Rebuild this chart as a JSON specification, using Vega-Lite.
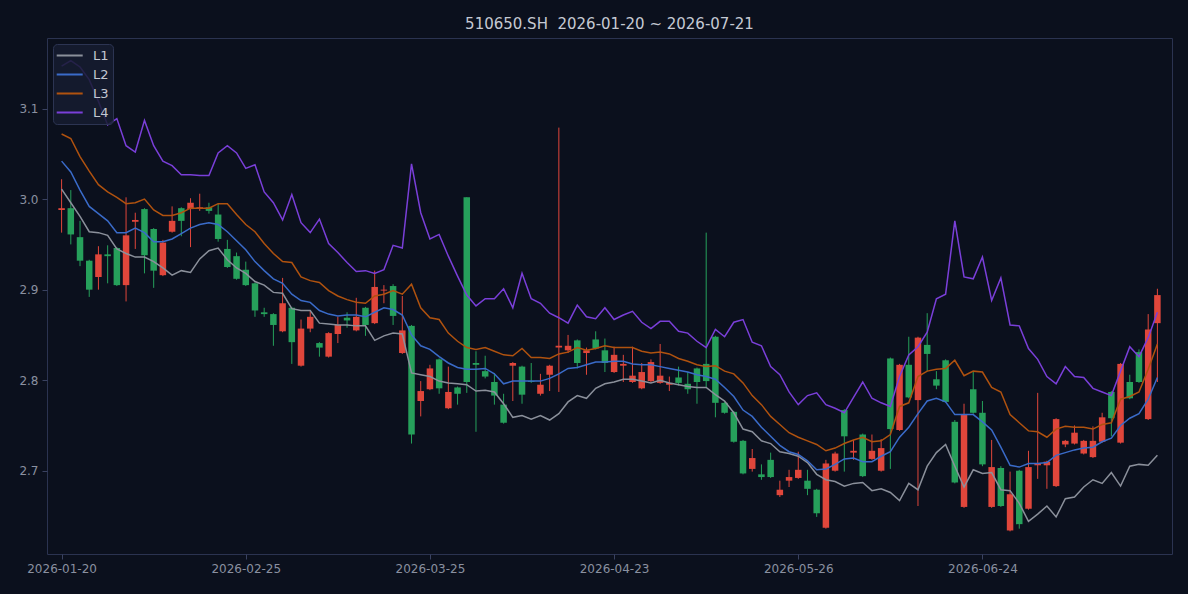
{
  "$schema": "https://vega.github.io/schema/vega-lite/v6.json",
  "width": 1125,
  "height": 516,
  "autosize": {"type": "none"},
  "padding": {"left": 47, "top": 38, "right": 16, "bottom": 40},
  "background": "#0b101d",
  "title": {"text": "510650.SH\u00a0 2026-01-20 ~ 2026-07-21", "color": "#c5c9d3", "fontSize": 15, "fontWeight": "normal", "font": "DejaVu Sans", "offset": 6, "anchor": "middle"},
  "config": {
    "font": "DejaVu Sans",
    "view": {"stroke": "#2b3350", "strokeWidth": 1},
    "axis": {"labelColor": "#8a90a0", "labelFontSize": 12, "tickColor": "#3a4260", "tickSize": 5, "domain": false, "grid": false, "title": null, "labelPadding": 4},
    "legend": {"orient": "top-left", "offset": 6, "fillColor": "rgba(22,28,48,0.85)", "strokeColor": "#2c3452", "cornerRadius": 4, "padding": 4, "symbolType": "M-1.2,0H2.8", "symbolSize": 169, "symbolStrokeWidth": 2, "labelColor": "#c3c7d1", "labelFontSize": 13, "rowPadding": 4, "labelOffset": 21}
  },
  "data": {"values": [
    {"d":"2026-01-20","o":2.988,"h":3.022,"l":2.963,"c":2.990,"L1":3.011,"L2":3.042,"L3":3.072,"L4":3.147},
    {"d":"2026-01-21","o":2.990,"h":3.010,"l":2.950,"c":2.961,"L1":2.996,"L2":3.030,"L3":3.067,"L4":3.153},
    {"d":"2026-01-22","o":2.958,"h":2.976,"l":2.926,"c":2.932,"L1":2.981,"L2":3.010,"L3":3.047,"L4":3.146},
    {"d":"2026-01-23","o":2.932,"h":2.933,"l":2.892,"c":2.900,"L1":2.964,"L2":2.992,"L3":3.031,"L4":3.132},
    {"d":"2026-01-26","o":2.914,"h":2.948,"l":2.900,"c":2.939,"L1":2.963,"L2":2.984,"L3":3.016,"L4":3.108},
    {"d":"2026-01-27","o":2.939,"h":2.949,"l":2.907,"c":2.937,"L1":2.960,"L2":2.976,"L3":3.008,"L4":3.082},
    {"d":"2026-01-28","o":2.946,"h":2.947,"l":2.904,"c":2.905,"L1":2.945,"L2":2.963,"L3":3.002,"L4":3.089},
    {"d":"2026-01-29","o":2.905,"h":3.002,"l":2.887,"c":2.960,"L1":2.940,"L2":2.963,"L3":2.995,"L4":3.059},
    {"d":"2026-01-30","o":2.975,"h":2.985,"l":2.945,"c":2.977,"L1":2.936,"L2":2.968,"L3":2.996,"L4":3.052},
    {"d":"2026-02-02","o":2.989,"h":2.990,"l":2.918,"c":2.938,"L1":2.936,"L2":2.963,"L3":3.000,"L4":3.087},
    {"d":"2026-02-03","o":2.967,"h":2.968,"l":2.902,"c":2.921,"L1":2.931,"L2":2.953,"L3":2.988,"L4":3.059},
    {"d":"2026-02-04","o":2.916,"h":2.955,"l":2.915,"c":2.952,"L1":2.924,"L2":2.953,"L3":2.982,"L4":3.042},
    {"d":"2026-02-05","o":2.964,"h":2.992,"l":2.963,"c":2.976,"L1":2.916,"L2":2.956,"L3":2.982,"L4":3.037},
    {"d":"2026-02-06","o":2.990,"h":2.991,"l":2.959,"c":2.976,"L1":2.921,"L2":2.962,"L3":2.985,"L4":3.027},
    {"d":"2026-02-09","o":2.989,"h":3.001,"l":2.947,"c":2.996,"L1":2.919,"L2":2.968,"L3":2.990,"L4":3.027},
    {"d":"2026-02-10","o":2.990,"h":3.006,"l":2.987,"c":2.991,"L1":2.934,"L2":2.972,"L3":2.990,"L4":3.026},
    {"d":"2026-02-11","o":2.991,"h":2.996,"l":2.984,"c":2.987,"L1":2.943,"L2":2.974,"L3":2.990,"L4":3.026},
    {"d":"2026-02-12","o":2.983,"h":2.995,"l":2.953,"c":2.956,"L1":2.946,"L2":2.972,"L3":2.995,"L4":3.051},
    {"d":"2026-02-13","o":2.945,"h":2.955,"l":2.924,"c":2.925,"L1":2.933,"L2":2.964,"L3":2.995,"L4":3.059},
    {"d":"2026-02-24","o":2.937,"h":2.941,"l":2.911,"c":2.912,"L1":2.924,"L2":2.954,"L3":2.983,"L4":3.051},
    {"d":"2026-02-25","o":2.922,"h":2.931,"l":2.904,"c":2.905,"L1":2.918,"L2":2.944,"L3":2.972,"L4":3.034},
    {"d":"2026-02-26","o":2.907,"h":2.908,"l":2.870,"c":2.877,"L1":2.909,"L2":2.931,"L3":2.964,"L4":3.038},
    {"d":"2026-02-27","o":2.875,"h":2.880,"l":2.870,"c":2.873,"L1":2.905,"L2":2.921,"L3":2.951,"L4":3.008},
    {"d":"2026-03-02","o":2.873,"h":2.874,"l":2.838,"c":2.861,"L1":2.897,"L2":2.912,"L3":2.940,"L4":2.996},
    {"d":"2026-03-03","o":2.854,"h":2.913,"l":2.853,"c":2.885,"L1":2.896,"L2":2.907,"L3":2.931,"L4":2.977},
    {"d":"2026-03-04","o":2.880,"h":2.881,"l":2.818,"c":2.842,"L1":2.879,"L2":2.895,"L3":2.930,"L4":3.005},
    {"d":"2026-03-05","o":2.816,"h":2.867,"l":2.815,"c":2.857,"L1":2.877,"L2":2.888,"L3":2.914,"L4":2.974},
    {"d":"2026-03-06","o":2.857,"h":2.877,"l":2.853,"c":2.870,"L1":2.877,"L2":2.886,"L3":2.910,"L4":2.963},
    {"d":"2026-03-09","o":2.841,"h":2.842,"l":2.826,"c":2.836,"L1":2.863,"L2":2.877,"L3":2.908,"L4":2.978},
    {"d":"2026-03-10","o":2.826,"h":2.853,"l":2.825,"c":2.852,"L1":2.862,"L2":2.873,"L3":2.899,"L4":2.951},
    {"d":"2026-03-11","o":2.851,"h":2.870,"l":2.841,"c":2.861,"L1":2.861,"L2":2.871,"L3":2.893,"L4":2.941},
    {"d":"2026-03-12","o":2.869,"h":2.875,"l":2.858,"c":2.866,"L1":2.861,"L2":2.872,"L3":2.889,"L4":2.930},
    {"d":"2026-03-13","o":2.855,"h":2.891,"l":2.854,"c":2.870,"L1":2.860,"L2":2.872,"L3":2.886,"L4":2.920},
    {"d":"2026-03-16","o":2.880,"h":2.881,"l":2.849,"c":2.861,"L1":2.860,"L2":2.870,"L3":2.885,"L4":2.921},
    {"d":"2026-03-17","o":2.863,"h":2.921,"l":2.862,"c":2.903,"L1":2.844,"L2":2.875,"L3":2.893,"L4":2.918},
    {"d":"2026-03-18","o":2.899,"h":2.905,"l":2.885,"c":2.900,"L1":2.849,"L2":2.880,"L3":2.895,"L4":2.922},
    {"d":"2026-03-19","o":2.904,"h":2.906,"l":2.861,"c":2.871,"L1":2.852,"L2":2.878,"L3":2.899,"L4":2.949},
    {"d":"2026-03-20","o":2.830,"h":2.893,"l":2.829,"c":2.855,"L1":2.851,"L2":2.872,"L3":2.895,"L4":2.946},
    {"d":"2026-03-23","o":2.860,"h":2.861,"l":2.730,"c":2.740,"L1":2.808,"L2":2.850,"L3":2.906,"L4":3.039},
    {"d":"2026-03-24","o":2.777,"h":2.799,"l":2.760,"c":2.788,"L1":2.806,"L2":2.838,"L3":2.880,"L4":2.985},
    {"d":"2026-03-25","o":2.790,"h":2.817,"l":2.789,"c":2.813,"L1":2.804,"L2":2.834,"L3":2.869,"L4":2.956},
    {"d":"2026-03-26","o":2.823,"h":2.824,"l":2.785,"c":2.791,"L1":2.799,"L2":2.826,"L3":2.867,"L4":2.961},
    {"d":"2026-03-27","o":2.769,"h":2.815,"l":2.768,"c":2.787,"L1":2.797,"L2":2.819,"L3":2.852,"L4":2.937},
    {"d":"2026-03-30","o":2.792,"h":2.793,"l":2.773,"c":2.785,"L1":2.796,"L2":2.814,"L3":2.843,"L4":2.915},
    {"d":"2026-03-31","o":3.002,"h":3.002,"l":2.786,"c":2.798,"L1":2.795,"L2":2.812,"L3":2.836,"L4":2.894},
    {"d":"2026-04-01","o":2.819,"h":2.832,"l":2.743,"c":2.817,"L1":2.788,"L2":2.812,"L3":2.834,"L4":2.882},
    {"d":"2026-04-02","o":2.810,"h":2.827,"l":2.802,"c":2.804,"L1":2.789,"L2":2.813,"L3":2.836,"L4":2.890},
    {"d":"2026-04-03","o":2.798,"h":2.808,"l":2.773,"c":2.783,"L1":2.787,"L2":2.807,"L3":2.832,"L4":2.890},
    {"d":"2026-04-07","o":2.773,"h":2.785,"l":2.752,"c":2.753,"L1":2.774,"L2":2.796,"L3":2.828,"L4":2.901},
    {"d":"2026-04-08","o":2.816,"h":2.820,"l":2.777,"c":2.819,"L1":2.759,"L2":2.799,"L3":2.827,"L4":2.880},
    {"d":"2026-04-09","o":2.815,"h":2.816,"l":2.774,"c":2.784,"L1":2.761,"L2":2.799,"L3":2.835,"L4":2.918},
    {"d":"2026-04-10","o":2.799,"h":2.819,"l":2.797,"c":2.798,"L1":2.757,"L2":2.799,"L3":2.825,"L4":2.890},
    {"d":"2026-04-13","o":2.785,"h":2.807,"l":2.783,"c":2.795,"L1":2.761,"L2":2.799,"L3":2.825,"L4":2.885},
    {"d":"2026-04-14","o":2.806,"h":2.817,"l":2.788,"c":2.816,"L1":2.756,"L2":2.802,"L3":2.824,"L4":2.874},
    {"d":"2026-04-15","o":2.836,"h":3.079,"l":2.787,"c":2.838,"L1":2.763,"L2":2.807,"L3":2.829,"L4":2.869},
    {"d":"2026-04-16","o":2.833,"h":2.850,"l":2.830,"c":2.838,"L1":2.776,"L2":2.813,"L3":2.831,"L4":2.863},
    {"d":"2026-04-17","o":2.844,"h":2.845,"l":2.813,"c":2.819,"L1":2.783,"L2":2.814,"L3":2.836,"L4":2.883},
    {"d":"2026-04-20","o":2.830,"h":2.836,"l":2.806,"c":2.833,"L1":2.780,"L2":2.817,"L3":2.833,"L4":2.870},
    {"d":"2026-04-21","o":2.845,"h":2.854,"l":2.834,"c":2.835,"L1":2.791,"L2":2.820,"L3":2.835,"L4":2.868},
    {"d":"2026-04-22","o":2.833,"h":2.846,"l":2.809,"c":2.819,"L1":2.796,"L2":2.820,"L3":2.838,"L4":2.880},
    {"d":"2026-04-23","o":2.809,"h":2.837,"l":2.808,"c":2.828,"L1":2.798,"L2":2.821,"L3":2.836,"L4":2.867},
    {"d":"2026-04-24","o":2.816,"h":2.828,"l":2.798,"c":2.818,"L1":2.801,"L2":2.821,"L3":2.836,"L4":2.872},
    {"d":"2026-04-27","o":2.798,"h":2.837,"l":2.797,"c":2.805,"L1":2.801,"L2":2.818,"L3":2.836,"L4":2.876},
    {"d":"2026-04-28","o":2.791,"h":2.819,"l":2.790,"c":2.809,"L1":2.799,"L2":2.817,"L3":2.832,"L4":2.864},
    {"d":"2026-04-29","o":2.799,"h":2.823,"l":2.798,"c":2.820,"L1":2.797,"L2":2.817,"L3":2.830,"L4":2.857},
    {"d":"2026-04-30","o":2.797,"h":2.840,"l":2.796,"c":2.805,"L1":2.800,"L2":2.815,"L3":2.831,"L4":2.865},
    {"d":"2026-05-06","o":2.795,"h":2.804,"l":2.788,"c":2.797,"L1":2.797,"L2":2.813,"L3":2.829,"L4":2.865},
    {"d":"2026-05-07","o":2.803,"h":2.815,"l":2.794,"c":2.797,"L1":2.795,"L2":2.811,"L3":2.824,"L4":2.854},
    {"d":"2026-05-08","o":2.796,"h":2.809,"l":2.785,"c":2.790,"L1":2.793,"L2":2.809,"L3":2.821,"L4":2.852},
    {"d":"2026-05-11","o":2.813,"h":2.814,"l":2.774,"c":2.798,"L1":2.792,"L2":2.806,"L3":2.817,"L4":2.843},
    {"d":"2026-05-12","o":2.818,"h":2.963,"l":2.792,"c":2.799,"L1":2.792,"L2":2.804,"L3":2.815,"L4":2.836},
    {"d":"2026-05-13","o":2.848,"h":2.849,"l":2.759,"c":2.775,"L1":2.784,"L2":2.801,"L3":2.816,"L4":2.856},
    {"d":"2026-05-14","o":2.775,"h":2.776,"l":2.763,"c":2.764,"L1":2.777,"L2":2.792,"L3":2.810,"L4":2.848},
    {"d":"2026-05-15","o":2.765,"h":2.766,"l":2.731,"c":2.732,"L1":2.764,"L2":2.782,"L3":2.807,"L4":2.864},
    {"d":"2026-05-18","o":2.733,"h":2.734,"l":2.696,"c":2.697,"L1":2.746,"L2":2.767,"L3":2.797,"L4":2.867},
    {"d":"2026-05-19","o":2.702,"h":2.724,"l":2.699,"c":2.714,"L1":2.743,"L2":2.760,"L3":2.783,"L4":2.842},
    {"d":"2026-05-20","o":2.696,"h":2.707,"l":2.690,"c":2.693,"L1":2.733,"L2":2.748,"L3":2.773,"L4":2.838},
    {"d":"2026-05-21","o":2.712,"h":2.720,"l":2.692,"c":2.693,"L1":2.730,"L2":2.738,"L3":2.760,"L4":2.815},
    {"d":"2026-05-22","o":2.673,"h":2.689,"l":2.671,"c":2.679,"L1":2.721,"L2":2.728,"L3":2.751,"L4":2.806},
    {"d":"2026-05-25","o":2.689,"h":2.701,"l":2.682,"c":2.693,"L1":2.719,"L2":2.721,"L3":2.742,"L4":2.787},
    {"d":"2026-05-26","o":2.692,"h":2.721,"l":2.691,"c":2.701,"L1":2.716,"L2":2.718,"L3":2.737,"L4":2.773},
    {"d":"2026-05-27","o":2.689,"h":2.701,"l":2.673,"c":2.680,"L1":2.709,"L2":2.711,"L3":2.733,"L4":2.783},
    {"d":"2026-05-28","o":2.679,"h":2.680,"l":2.649,"c":2.653,"L1":2.696,"L2":2.701,"L3":2.729,"L4":2.786},
    {"d":"2026-05-29","o":2.637,"h":2.712,"l":2.636,"c":2.708,"L1":2.690,"L2":2.702,"L3":2.722,"L4":2.773},
    {"d":"2026-06-01","o":2.700,"h":2.721,"l":2.699,"c":2.719,"L1":2.688,"L2":2.707,"L3":2.725,"L4":2.769},
    {"d":"2026-06-02","o":2.767,"h":2.768,"l":2.699,"c":2.738,"L1":2.683,"L2":2.713,"L3":2.730,"L4":2.764},
    {"d":"2026-06-03","o":2.720,"h":2.734,"l":2.712,"c":2.722,"L1":2.686,"L2":2.714,"L3":2.734,"L4":2.781},
    {"d":"2026-06-04","o":2.740,"h":2.741,"l":2.693,"c":2.694,"L1":2.687,"L2":2.710,"L3":2.737,"L4":2.798},
    {"d":"2026-06-05","o":2.713,"h":2.740,"l":2.712,"c":2.722,"L1":2.678,"L2":2.710,"L3":2.732,"L4":2.780},
    {"d":"2026-06-08","o":2.700,"h":2.735,"l":2.699,"c":2.725,"L1":2.680,"L2":2.716,"L3":2.733,"L4":2.775},
    {"d":"2026-06-09","o":2.824,"h":2.825,"l":2.702,"c":2.746,"L1":2.676,"L2":2.721,"L3":2.740,"L4":2.771},
    {"d":"2026-06-10","o":2.745,"h":2.818,"l":2.744,"c":2.817,"L1":2.667,"L2":2.737,"L3":2.771,"L4":2.804},
    {"d":"2026-06-11","o":2.817,"h":2.848,"l":2.780,"c":2.781,"L1":2.686,"L2":2.748,"L3":2.775,"L4":2.828},
    {"d":"2026-06-12","o":2.778,"h":2.848,"l":2.661,"c":2.847,"L1":2.679,"L2":2.763,"L3":2.804,"L4":2.837},
    {"d":"2026-06-15","o":2.839,"h":2.874,"l":2.810,"c":2.829,"L1":2.705,"L2":2.777,"L3":2.810,"L4":2.853},
    {"d":"2026-06-16","o":2.801,"h":2.810,"l":2.790,"c":2.794,"L1":2.720,"L2":2.780,"L3":2.812,"L4":2.890},
    {"d":"2026-06-17","o":2.822,"h":2.823,"l":2.775,"c":2.776,"L1":2.729,"L2":2.776,"L3":2.813,"L4":2.895},
    {"d":"2026-06-18","o":2.754,"h":2.756,"l":2.686,"c":2.687,"L1":2.705,"L2":2.762,"L3":2.822,"L4":2.976},
    {"d":"2026-06-22","o":2.660,"h":2.774,"l":2.659,"c":2.762,"L1":2.682,"L2":2.762,"L3":2.805,"L4":2.914},
    {"d":"2026-06-23","o":2.790,"h":2.810,"l":2.763,"c":2.764,"L1":2.701,"L2":2.762,"L3":2.810,"L4":2.912},
    {"d":"2026-06-24","o":2.764,"h":2.777,"l":2.705,"c":2.707,"L1":2.697,"L2":2.754,"L3":2.809,"L4":2.936},
    {"d":"2026-06-25","o":2.660,"h":2.734,"l":2.659,"c":2.704,"L1":2.698,"L2":2.745,"L3":2.792,"L4":2.888},
    {"d":"2026-06-26","o":2.703,"h":2.705,"l":2.660,"c":2.661,"L1":2.679,"L2":2.726,"L3":2.787,"L4":2.913},
    {"d":"2026-06-29","o":2.634,"h":2.699,"l":2.633,"c":2.674,"L1":2.678,"L2":2.706,"L3":2.762,"L4":2.861},
    {"d":"2026-06-30","o":2.700,"h":2.701,"l":2.636,"c":2.641,"L1":2.664,"L2":2.704,"L3":2.753,"L4":2.860},
    {"d":"2026-07-01","o":2.658,"h":2.722,"l":2.657,"c":2.704,"L1":2.644,"L2":2.708,"L3":2.744,"L4":2.835},
    {"d":"2026-07-02","o":2.706,"h":2.786,"l":2.691,"c":2.708,"L1":2.652,"L2":2.708,"L3":2.743,"L4":2.823},
    {"d":"2026-07-03","o":2.706,"h":2.711,"l":2.680,"c":2.710,"L1":2.661,"L2":2.709,"L3":2.737,"L4":2.804},
    {"d":"2026-07-06","o":2.683,"h":2.758,"l":2.682,"c":2.757,"L1":2.649,"L2":2.717,"L3":2.746,"L4":2.796},
    {"d":"2026-07-07","o":2.729,"h":2.734,"l":2.726,"c":2.733,"L1":2.669,"L2":2.720,"L3":2.749,"L4":2.815},
    {"d":"2026-07-08","o":2.730,"h":2.750,"l":2.729,"c":2.742,"L1":2.671,"L2":2.723,"L3":2.748,"L4":2.804},
    {"d":"2026-07-09","o":2.719,"h":2.734,"l":2.718,"c":2.733,"L1":2.682,"L2":2.725,"L3":2.748,"L4":2.803},
    {"d":"2026-07-10","o":2.715,"h":2.749,"l":2.714,"c":2.733,"L1":2.690,"L2":2.726,"L3":2.746,"L4":2.791},
    {"d":"2026-07-13","o":2.732,"h":2.764,"l":2.731,"c":2.759,"L1":2.686,"L2":2.732,"L3":2.751,"L4":2.787},
    {"d":"2026-07-14","o":2.787,"h":2.788,"l":2.738,"c":2.758,"L1":2.698,"L2":2.736,"L3":2.753,"L4":2.783},
    {"d":"2026-07-15","o":2.731,"h":2.819,"l":2.730,"c":2.818,"L1":2.683,"L2":2.750,"L3":2.779,"L4":2.810},
    {"d":"2026-07-16","o":2.798,"h":2.806,"l":2.779,"c":2.780,"L1":2.705,"L2":2.758,"L3":2.782,"L4":2.837},
    {"d":"2026-07-17","o":2.831,"h":2.834,"l":2.797,"c":2.798,"L1":2.707,"L2":2.763,"L3":2.787,"L4":2.826},
    {"d":"2026-07-20","o":2.757,"h":2.873,"l":2.756,"c":2.856,"L1":2.706,"L2":2.779,"L3":2.812,"L4":2.847},
    {"d":"2026-07-21","o":2.863,"h":2.901,"l":2.798,"c":2.894,"L1":2.717,"L2":2.803,"L3":2.840,"L4":2.875}
  ]},
  "encoding": {
    "x": {"field": "d", "type": "ordinal", "sort": null,
      "scale": {"type": "point", "padding": 0, "range": [14.6, 1110.4]},
      "axis": {"values": ["2026-01-20", "2026-02-25", "2026-03-25", "2026-04-23", "2026-05-26", "2026-06-24"], "labelAngle": 0}}
  },
  "layer": [
    {
      "mark": {"type": "rule", "strokeWidth": 1},
      "encoding": {
        "y": {"field": "l", "type": "quantitative", "scale": {"domain": [2.608, 3.178], "nice": false, "zero": false},
          "axis": {"values": [2.7, 2.8, 2.9, 3.0, 3.1], "format": ".1f"}},
        "y2": {"field": "h"},
        "color": {"condition": {"test": "datum.c >= datum.o", "value": "#e0463b"}, "value": "#26a05b"}
      }
    },
    {
      "mark": {"type": "bar", "width": 6.5},
      "encoding": {
        "y": {"field": "o", "type": "quantitative"},
        "y2": {"field": "c"},
        "color": {"condition": {"test": "datum.c >= datum.o", "value": "#e0463b"}, "value": "#26a05b"}
      }
    },
    {
      "transform": [{"fold": ["L1", "L2", "L3", "L4"], "as": ["k", "v"]}],
      "mark": {"type": "line", "strokeWidth": 1.5},
      "encoding": {
        "y": {"field": "v", "type": "quantitative"},
        "color": {"field": "k", "type": "nominal",
          "scale": {"domain": ["L1", "L2", "L3", "L4"], "range": ["#8b909b", "#3a6bc9", "#b0520f", "#7a3fd9"]},
          "legend": {"title": null}}
      }
    }
  ]
}
